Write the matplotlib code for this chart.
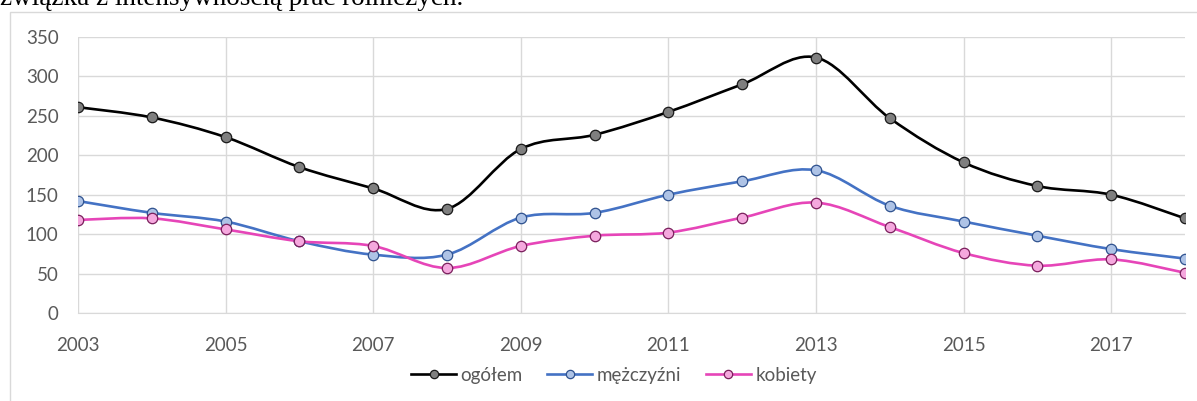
import numpy as np
import matplotlib
matplotlib.use("Agg")
import matplotlib.pyplot as plt
from matplotlib.path import Path
from matplotlib.patches import PathPatch, Rectangle
from matplotlib.lines import Line2D

years = list(range(2003, 2019))
ogolem = [261, 248, 223, 185, 158, 132, 208, 226, 255, 290, 324, 247, 191, 161, 150, 120]
mezczyzni = [142, 127, 116, 91, 74, 74, 121, 127, 150, 167, 181, 136, 116, 98, 81, 69]
kobiety = [118, 120, 106, 91, 85, 57, 85, 98, 102, 121, 140, 109, 76, 60, 68, 51]
series_names = ["ogółem", "mężczyźni", "kobiety"]
y_ticks = [0, 50, 100, 150, 200, 250, 300, 350]
x_label_years = list(range(2003, 2019, 2))

styles = [
    dict(line="#000000", face="#7f7f7f", edge="#1a1a1a"),
    dict(line="#4472c4", face="#aec3e6", edge="#2f528f"),
    dict(line="#e645b8", face="#f5a8de", edge="#7a1f5c"),
]


def smooth_path(x, y):
    # Excel-like smoothed line: cubic bezier through each point (Catmull-Rom, 1/6 tension)
    p = np.column_stack([x, y]).astype(float)
    n = len(p)
    verts = [p[0]]
    codes = [Path.MOVETO]
    for i in range(n - 1):
        p0 = p[i - 1] if i > 0 else p[i]
        p3 = p[i + 2] if i + 2 < n else p[i + 1]
        c1 = p[i] + (p[i + 1] - p0) / 6
        c2 = p[i + 1] - (p3 - p[i]) / 6
        verts += [c1, c2, p[i + 1]]
        codes += [Path.CURVE4] * 3
    return Path(verts, codes)


FS = 13.5
fig = plt.figure(figsize=(11.97, 4.01), dpi=100)
ax = fig.add_axes([78 / 1197, 1 - 313 / 401, (1185 - 78) / 1197, (313 - 37) / 401])

fig.patches.append(Rectangle((10 / 1197, -0.1), 1.2, 1 - 12 / 401 + 0.1,
                             transform=fig.transFigure, fill=False,
                             edgecolor="#d9d9d9", linewidth=1.0))
# surrounding document text, cut by the top edge as in the source screenshot
fig.text(0.0, 1 - 5 / 401, "związka z intensywnością prac rolniczych.",
         family="Liberation Serif", fontsize=19.5, va="baseline", ha="left")

handles = []
for name, vals, st in zip(series_names, [ogolem, mezczyzni, kobiety], styles):
    ax.add_patch(PathPatch(smooth_path(years, vals), fill=False,
                           edgecolor=st["line"], linewidth=1.9, zorder=3,
                           capstyle="round", joinstyle="round"))
    ax.plot(years, vals, linestyle="none", marker="o", markersize=7.5,
            markerfacecolor=st["face"], markeredgecolor=st["edge"],
            markeredgewidth=0.9, zorder=4)
    handles.append(Line2D([], [], color=st["line"], linewidth=1.9, marker="o",
                          markersize=6, markerfacecolor=st["face"],
                          markeredgecolor=st["edge"], markeredgewidth=0.9,
                          label=name))

ax.set_xlim(2003, 2018)
ax.set_ylim(0, 350)
ax.set_yticks(y_ticks)
ax.set_xticks(x_label_years)
ax.set_xticklabels([str(y) for y in x_label_years])
ax.grid(True, color="#d9d9d9", linewidth=1.0)
ax.set_axisbelow(True)
for s in ["top", "right", "left"]:
    ax.spines[s].set_visible(False)
ax.spines["bottom"].set_color("#d9d9d9")
ax.tick_params(length=0, labelsize=FS, labelcolor="#595959")
ax.tick_params(axis="x", pad=17)
ax.tick_params(axis="y", pad=14)
for lbl in ax.get_xticklabels() + ax.get_yticklabels():
    lbl.set_family("Lato")

fig.legend(handles=handles, loc="center", bbox_to_anchor=(614 / 1197, 1 - 375 / 401),
           ncol=3, frameon=False, handlelength=2.4, columnspacing=1.3,
           handletextpad=0.25, prop={"family": "Lato", "size": FS},
           labelcolor="#595959")

fig.savefig("out.png", dpi=100)
